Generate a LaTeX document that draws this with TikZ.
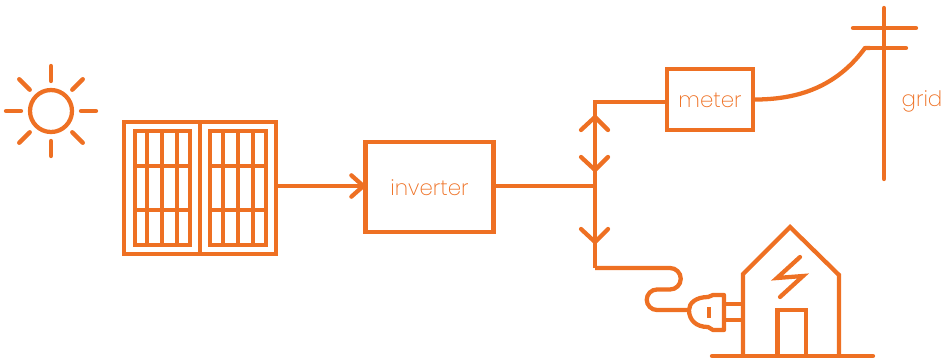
\documentclass[tikz,border=0pt]{standalone}
\usepackage{fontspec}
\setmainfont{Poppins ExtraLight}
\usetikzlibrary{arrows.meta}
\definecolor{solar}{HTML}{EE7023}
\tikzset{
  wire/.style={draw=solar,line width=3.2pt},
  ray/.style={wire,line cap=round},
  devicebox/.style={wire,rectangle,inner sep=0pt,outer sep=0pt},
  devicetext/.style={text=solar,font=\fontsize{16}{16}\selectfont,inner sep=0pt,yshift=-0.75pt},
  barb/.style={-{Straight Barb[length=9pt,width=16pt,line width=3.2pt,round]}}
}
\begin{document}
\begin{tikzpicture}[x=0.75pt,y=-0.75pt]
    \useasboundingbox (0,0) rectangle (952,358);

    % Step 1: the sun
    \draw[wire] (51,111) circle (21);
    \foreach \a in {0,90,180,270} {
        \draw[ray] (51,111) ++(\a:30) -- ++(\a:15);
    }
    \foreach \a in {45,135,225,315} {
        \draw[ray] (51,111) ++(\a:30) -- ++(\a:15);
    }

    % Step 2: the panels
    \node[devicebox,minimum width=114pt,minimum height=99pt] (panels) at (200,188) {};
    \draw[wire] (panels.north) -- (panels.south);
    \foreach \xa/\xb/\xc/\xd/\xe in {135/147/162/177/190,210/223/238/253/266} {
        \draw[wire,line width=3.6pt] (\xa,131) rectangle (\xe,245);
        \draw[wire] (\xb,131) -- (\xb,245);
        \draw[wire] (\xc,131) -- (\xc,245);
        \draw[wire] (\xd,131) -- (\xd,245);
        \draw[wire] (\xa,166) -- (\xe,166);
        \draw[wire] (\xa,210) -- (\xe,210);
    }

    % Step 3: inverter and meter
    \node[devicebox,minimum width=96pt,minimum height=68pt] (inverter) at (429.5,187) {};
    \node[devicetext] at (inverter.center) {inverter};
    \node[devicebox,minimum width=64pt,minimum height=46pt] (meter) at (710,99.5) {};
    \node[devicetext] at (meter.center) {meter};

    % Step 4: the wires
    \coordinate (junction) at (595,186);
    \coordinate (upper) at (595,102);
    \coordinate (lower) at (595,268);
    \draw[wire,barb] (panels.east |- 0,186) -- (inverter.west |- 0,186);
    \draw[wire] (inverter.east |- junction) -- (junction);
    \draw[wire] (lower) -- (upper) -- (meter.west |- upper);

    % Step 5: the arrow marks on the wire
    \draw[ray,line join=round] (581,130) -- (595,117) -- (608,130);
    \draw[ray,line join=round] (581,157) -- (595,170) -- (608,157);
    \draw[ray,line join=round] (581,229) -- (595,242) -- (608,229);

    % Step 6: the grid pole
    \coordinate (poletop) at (884,8);
    \coordinate (polefoot) at (884,179);
    \draw[ray] (poletop) -- (polefoot);
    \draw[ray] (853,28) -- (916,28);
    \draw[ray] (906,48) -- (865,48);
    \draw[wire,line join=round] (meter.east) .. controls (805,100) and (840,82) .. (865,48) -- (870,48);
    \node[devicetext] (grid) at (922,100) {grid};

    % Step 7: cable and plug
    \coordinate (plug) at (689,310);
    \draw[wire] (lower) -- (670,268) arc[start angle=-90,end angle=90,radius=10.75] -- (657,289.5)
        arc[start angle=270,end angle=90,radius=10.25] -- (plug);
    \draw[wire,line join=round] (724,295) -- (713,295) -- (708,297)
        .. controls (696,297) and (689,303) .. (plug)
        .. controls (689,320) and (696,327) .. (708,327) -- (713,330) -- (724,330) -- cycle;
    \draw[wire] (709,307) -- (709,318);
    \draw[wire] (724,304) -- (742,304);
    \draw[wire] (724,320) -- (742,320);

    % Step 8: the house
    \draw[wire,line join=miter] (743,356) -- (743,274) -- (790,227) -- (839,275) -- (839,356);
    \draw[ray] (712,356) -- (873,356);
    \draw[ray,line join=miter] (800,257) -- (777,278) -- (803,276) -- (780,297);
    \draw[wire] (777.5,356) -- (777.5,310) -- (806,310) -- (806,356);
\end{tikzpicture}
\end{document}
